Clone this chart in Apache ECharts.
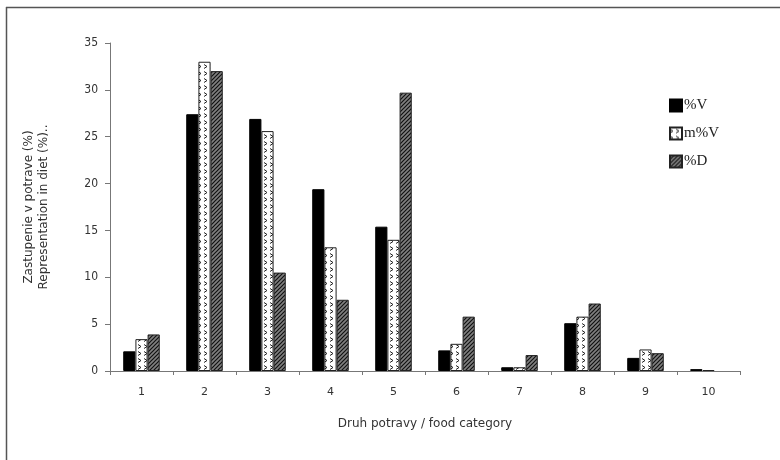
<!DOCTYPE html>
<html>
<head>
<meta charset="utf-8">
<script src="https://cdn.jsdelivr.net/npm/echarts@6/dist/echarts.min.js"></script>
<style>
  html, body { margin: 0; padding: 0; background: #fff; }
  #chart { width: 780px; height: 460px; }
</style>
</head>
<body>
<div id="chart"></div>
<script>
var categories = ['1', '2', '3', '4', '5', '6', '7', '8', '9', '10']
var valuesV = [2.1, 27.4, 26.9, 19.4, 15.4, 2.2, 0.4, 5.1, 1.4, 0.2]
var valuesMV = [3.4, 33.0, 25.6, 13.2, 14.0, 2.9, 0.4, 5.8, 2.3, 0.1]
var valuesD = [3.9, 32.0, 10.5, 7.6, 29.7, 5.8, 1.7, 7.2, 1.9, '-']
var yTicks = [0, 5, 10, 15, 20, 25, 30, 35]

// zigzag fill for m%V
function zigzagPattern () {
  var c = document.createElement('canvas')
  c.width = 6
  c.height = 7
  var ctx = c.getContext('2d')
  ctx.fillStyle = '#fff'
  ctx.fillRect(0, 0, 6, 7)
  ctx.strokeStyle = '#222'
  ctx.lineWidth = 1
  ctx.beginPath()
  ctx.moveTo(0, 1.5)
  ctx.lineTo(3, 3.5)
  ctx.lineTo(0, 5.5)
  ctx.stroke()
  return c
}

// diagonal hatch for %D
function hatchPattern () {
  var c = document.createElement('canvas')
  c.width = 4
  c.height = 4
  var ctx = c.getContext('2d')
  ctx.fillStyle = '#808080'
  ctx.fillRect(0, 0, 4, 4)
  ctx.strokeStyle = '#111'
  ctx.lineWidth = 1.2
  ctx.beginPath()
  ctx.moveTo(-1, 1)
  ctx.lineTo(1, -1)
  ctx.moveTo(-1, 5)
  ctx.lineTo(5, -1)
  ctx.moveTo(3, 5)
  ctx.lineTo(5, 3)
  ctx.stroke()
  return c
}

var myChart = echarts.init(document.getElementById('chart'))
var option = {
  backgroundColor: '#fff',
  animation: false,
  graphic: [
    { type: 'line', shape: { x1: 6, y1: 7.5, x2: 780, y2: 7.5 }, style: { stroke: '#555', lineWidth: 1.5 } },
    { type: 'line', shape: { x1: 6.5, y1: 7, x2: 6.5, y2: 460 }, style: { stroke: '#555', lineWidth: 1.5 } }
  ],
  legend: {
    orient: 'vertical',
    left: 664,
    top: 93,
    icon: 'rect',
    itemWidth: 12,
    itemHeight: 12,
    itemGap: 13,
    textStyle: {
      fontFamily: 'Liberation Serif',
      fontSize: 15,
      color: '#222',
      padding: [0, 0, 0, -3]
    },
    data: ['%V', 'm%V', '%D']
  },
  grid: {
    left: 110,
    right: 40,
    top: 43,
    bottom: 89,
    containLabel: false
  },
  xAxis: {
    type: 'category',
    data: categories,
    name: 'Druh potravy / food category',
    nameLocation: 'middle',
    nameGap: 47,
    nameTextStyle: { fontFamily: 'DejaVu Sans', fontSize: 12, color: '#333' },
    axisLine: { lineStyle: { color: '#777', width: 1 } },
    axisTick: { show: true, alignWithLabel: false, length: 4, lineStyle: { color: '#777' } },
    axisLabel: { margin: 16, fontFamily: 'DejaVu Sans', fontSize: 11, color: '#333' },
    splitLine: { show: false }
  },
  yAxis: {
    type: 'value',
    min: 0,
    max: 35,
    interval: 5,
    name: 'Zastupenie v potrave (%)\nRepresentation in diet (%)..',
    nameLocation: 'middle',
    nameGap: 59,
    nameTextStyle: { fontFamily: 'DejaVu Sans', fontSize: 12, color: '#333', lineHeight: 15 },
    axisLine: { show: true, lineStyle: { color: '#777', width: 1 } },
    axisTick: { show: true, length: 5, lineStyle: { color: '#777' } },
    axisLabel: {
      margin: 12,
      fontFamily: 'DejaVu Sans Condensed',
      fontSize: 12,
      color: '#333',
      formatter: function (v) { return yTicks.indexOf(v) >= 0 ? String(v) : '' }
    },
    splitLine: { show: false }
  },
  series: [
    {
      name: '%V',
      type: 'bar',
      data: valuesV,
      barGap: '0%',
      barCategoryGap: '42%',
      itemStyle: { color: '#000', borderColor: '#000', borderWidth: 1 }
    },
    {
      name: 'm%V',
      type: 'bar',
      data: valuesMV,
      barGap: '0%',
      barCategoryGap: '42%',
      itemStyle: { color: { image: zigzagPattern(), repeat: 'repeat' }, borderColor: '#222', borderWidth: 1 }
    },
    {
      name: '%D',
      type: 'bar',
      data: valuesD,
      barGap: '0%',
      barCategoryGap: '42%',
      itemStyle: { color: { image: hatchPattern(), repeat: 'repeat' }, borderColor: '#222', borderWidth: 1 }
    }
  ]
}
myChart.setOption(option)
</script>
</body>
</html>
